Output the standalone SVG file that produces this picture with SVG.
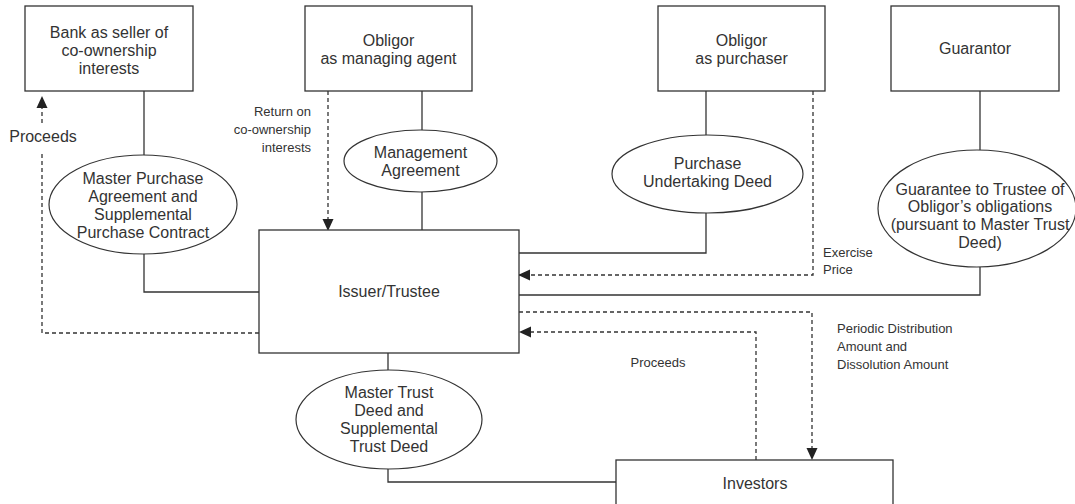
<svg xmlns="http://www.w3.org/2000/svg" width="1075" height="504" viewBox="0 0 1075 504">
<style>
.box{fill:#fff;stroke:#333;stroke-width:1.3}
.ell{fill:#fff;stroke:#333;stroke-width:1.2}
.t{font-family:"Liberation Sans",Arial,sans-serif;font-size:16px;fill:#333;text-anchor:middle}
.s{font-family:"Liberation Sans",Arial,sans-serif;font-size:13px;fill:#333}
.ln{fill:none;stroke:#333;stroke-width:1.3}
.dash{fill:none;stroke:#333;stroke-width:1.3;stroke-dasharray:4 3}
</style>
<defs>
<marker id="ah" markerUnits="userSpaceOnUse" markerWidth="12" markerHeight="12" viewBox="0 0 12 12" refX="11" refY="6" orient="auto">
<path d="M0,0.5 L12,6 L0,11.5 Z" fill="#222"/>
</marker>
</defs>
<rect width="1075" height="504" fill="#fff"/>
<g id="connectors">
<path class="ln" d="M144,91 V155"/>
<path class="ln" d="M144,254 V292 H259"/>
<path class="ln" d="M422,91 V130"/>
<path class="ln" d="M422,192 V230"/>
<path class="ln" d="M706,91 V135"/>
<path class="ln" d="M706,213 V253 H519"/>
<path class="ln" d="M980,91 V150"/>
<path class="ln" d="M980,267 V295 H519"/>
<path class="ln" d="M388,353 V370"/>
<path class="ln" d="M388,469 V482 H616"/>
<path class="dash" d="M259,333 H42 V152"/>
<path class="dash" d="M42,123 V97" marker-end="url(#ah)"/>
<path class="dash" d="M328,91 V230" marker-end="url(#ah)"/>
<path class="dash" d="M813,91 V275 H519" marker-end="url(#ah)"/>
<path class="dash" d="M519,312 H812 V459" marker-end="url(#ah)"/>
<path class="dash" d="M756,460 V332 H520" marker-end="url(#ah)"/>
<text class="t" x="43" y="142">Proceeds</text>
<text class="s" x="311" y="115.5" text-anchor="end">Return on</text>
<text class="s" x="311" y="133.5" text-anchor="end">co-ownership</text>
<text class="s" x="311" y="151.5" text-anchor="end">interests</text>
<text class="s" x="823" y="256.5">Exercise</text>
<text class="s" x="823" y="274">Price</text>
<text class="s" x="837" y="332.5">Periodic Distribution</text>
<text class="s" x="837" y="350.5">Amount and</text>
<text class="s" x="837" y="368.5">Dissolution Amount</text>
<text class="s" x="658" y="366.5" text-anchor="middle">Proceeds</text>
</g>
<g id="bank">
<rect class="box" x="25" y="6" width="168" height="85"/>
<text class="t" x="109" y="37.5">Bank as seller of</text>
<text class="t" x="109" y="55.5">co-ownership</text>
<text class="t" x="109" y="73.5">interests</text>
</g>
<g id="obligor-agent">
<rect class="box" x="305" y="6" width="167" height="85"/>
<text class="t" x="388.5" y="45.5">Obligor</text>
<text class="t" x="388.5" y="63.5">as managing agent</text>
</g>
<g id="obligor-purchaser">
<rect class="box" x="658" y="6" width="167" height="85"/>
<text class="t" x="741.5" y="45.5">Obligor</text>
<text class="t" x="741.5" y="63.5">as purchaser</text>
</g>
<g id="guarantor">
<rect class="box" x="891" y="6" width="168" height="85"/>
<text class="t" x="975" y="54">Guarantor</text>
</g>
<g id="mpa">
<ellipse class="ell" cx="143" cy="204.5" rx="94" ry="49.5"/>
<text class="t" x="143" y="184">Master Purchase</text>
<text class="t" x="143" y="202">Agreement and</text>
<text class="t" x="143" y="220">Supplemental</text>
<text class="t" x="143" y="238">Purchase Contract</text>
</g>
<g id="management">
<ellipse class="ell" cx="420.5" cy="161" rx="76.5" ry="31"/>
<text class="t" x="420.5" y="157.5">Management</text>
<text class="t" x="420.5" y="175.5">Agreement</text>
</g>
<g id="pud">
<ellipse class="ell" cx="707.5" cy="174" rx="95.5" ry="39"/>
<text class="t" x="707.5" y="168.5">Purchase</text>
<text class="t" x="707.5" y="186.5">Undertaking Deed</text>
</g>
<g id="guarantee">
<ellipse class="ell" cx="977" cy="208.5" rx="99" ry="58.5"/>
<text class="t" x="980" y="194.5">Guarantee to Trustee of</text>
<text class="t" x="980" y="212">Obligor’s obligations</text>
<text class="t" x="980" y="229.5">(pursuant to Master Trust</text>
<text class="t" x="980" y="247.5">Deed)</text>
</g>
<g id="issuer">
<rect class="box" x="259" y="230" width="260" height="123"/>
<text class="t" x="389" y="296.5">Issuer/Trustee</text>
</g>
<g id="mtd">
<ellipse class="ell" cx="389" cy="419.5" rx="93" ry="49.5"/>
<text class="t" x="389" y="397.5">Master Trust</text>
<text class="t" x="389" y="415.5">Deed and</text>
<text class="t" x="389" y="433.5">Supplemental</text>
<text class="t" x="389" y="452">Trust Deed</text>
</g>
<g id="investors">
<rect class="box" x="616" y="460" width="277" height="60"/>
<text class="t" x="755" y="488.5">Investors</text>
</g>
</svg>
